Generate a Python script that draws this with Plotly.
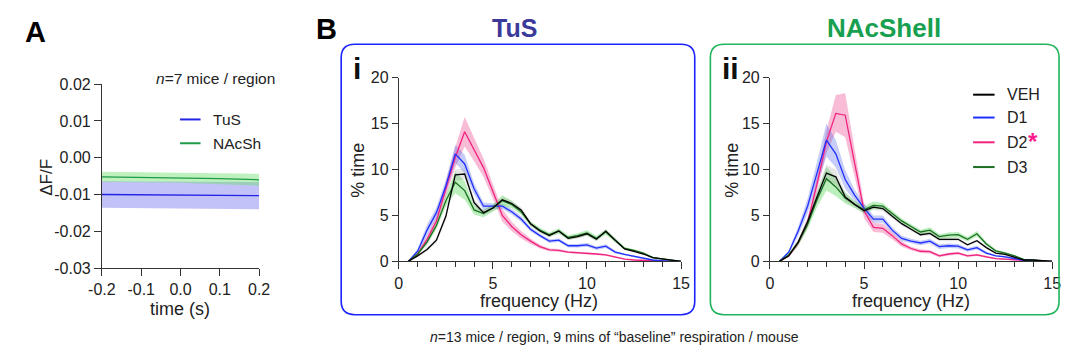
import plotly.graph_objects as go

# ---------------- data ----------------
# Panel A: photometry around respiration onset
time_s = [-0.2, -0.1, 0.0, 0.1, 0.2]
tus_dff = [-0.0100, -0.0101, -0.0102, -0.0102, -0.0103]
tus_sem = [0.0036, 0.0036, 0.0037, 0.0037, 0.0037]
nacsh_dff = [-0.0052, -0.0053, -0.0054, -0.0057, -0.0060]
nacsh_sem = [0.0014, 0.0014, 0.0014, 0.0015, 0.0016]
a_xticks = [-0.2, -0.1, 0.0, 0.1, 0.2]
a_xticktext = ["-0.2", "-0.1", "0.0", "0.1", "0.2"]
a_yticks = [0.02, 0.01, 0.0, -0.01, -0.02, -0.03]
a_yticktext = ["0.02", "0.01", "0.00", "-0.01", "-0.02", "-0.03"]

# Panel B: respiration frequency distributions (% time)
freq = [0.5, 1.0, 1.5, 2.0, 2.5, 3.0, 3.5, 4.0, 4.5, 5.0,
        5.5, 6.0, 6.5, 7.0, 7.5, 8.0, 8.5, 9.0, 9.5, 10.0,
        10.5, 11.0, 11.5, 12.0, 12.5, 13.0, 13.5, 14.0, 14.5, 15.0]

# TuS (i)
veh_tus = [0.0, 0.6, 1.3, 2.3, 4.9, 9.4, 9.5, 6.4, 5.3, 5.8,
           6.7, 6.3, 5.6, 4.1, 3.3, 2.8, 3.3, 2.5, 2.7, 3.0,
           2.4, 3.3, 2.3, 1.35, 1.1, 0.8, 0.4, 0.25, 0.12, 0.0]
d1_tus = [0.0, 1.1, 3.4, 5.3, 8.2, 11.7, 10.6, 7.9, 6.0, 6.0,
          6.0, 5.4, 4.6, 3.5, 2.8, 2.2, 2.3, 1.7, 1.7, 1.8,
          1.45, 1.65, 1.0, 0.75, 0.55, 0.3, 0.15, 0.07, 0.03, 0.0]
d2_tus = [0.0, 0.8, 2.4, 4.4, 7.9, 11.3, 14.1, 12.2, 10.2, 7.6,
          5.0, 3.8, 2.9, 2.2, 1.6, 1.25, 1.2, 1.0, 0.95, 0.9,
          0.8, 0.7, 0.45, 0.25, 0.15, 0.1, 0.05, 0.02, 0.0, 0.0]
d3_tus = [0.0, 0.8, 2.1, 3.9, 6.6, 8.6, 7.7, 5.6, 5.2, 5.8,
          6.6, 6.2, 5.4, 4.1, 3.4, 2.9, 3.3, 2.6, 2.8, 3.1,
          2.5, 3.2, 2.3, 1.4, 1.2, 0.9, 0.4, 0.25, 0.12, 0.0]
sem_veh_tus = [0, 0.15, 0.2, 0.3, 0.4, 0.6, 0.6, 0.4, 0.3, 0.3,
               0.3, 0.3, 0.3, 0.25, 0.2, 0.2, 0.2, 0.2, 0.2, 0.2,
               0.2, 0.2, 0.15, 0.15, 0.1, 0.1, 0.08, 0.05, 0.05, 0]
sem_d1_tus = [0, 0.3, 0.6, 0.6, 0.7, 1.0, 1.0, 0.6, 0.4, 0.3,
              0.3, 0.3, 0.3, 0.25, 0.2, 0.2, 0.2, 0.2, 0.2, 0.2,
              0.2, 0.2, 0.15, 0.1, 0.1, 0.08, 0.05, 0.03, 0.02, 0]
sem_d2_tus = [0, 0.2, 0.4, 0.5, 0.8, 1.1, 1.6, 1.3, 1.0, 0.8,
              0.7, 0.5, 0.4, 0.3, 0.2, 0.15, 0.15, 0.12, 0.12, 0.12,
              0.1, 0.1, 0.08, 0.05, 0.04, 0.03, 0.02, 0.01, 0, 0]
sem_d3_tus = [0, 0.2, 0.3, 0.4, 0.6, 1.2, 1.0, 0.5, 0.4, 0.4,
              0.6, 0.4, 0.3, 0.25, 0.25, 0.25, 0.3, 0.25, 0.25, 0.3,
              0.25, 0.3, 0.25, 0.15, 0.12, 0.1, 0.08, 0.05, 0.03, 0]

# NAcShell (ii)
veh_nac = [0.0, 0.6, 2.1, 4.3, 7.0, 9.6, 9.2, 7.0, 6.2, 5.5,
           5.9, 5.75, 4.9, 4.1, 3.5, 2.9, 3.05, 2.4, 2.4, 2.4,
           1.8, 2.25, 1.5, 0.9, 0.75, 0.45, 0.15, 0.15, 0.08, 0.0]
d1_nac = [0.0, 1.0, 3.3, 6.0, 9.6, 13.2, 11.7, 8.9, 7.2, 5.8,
          4.6, 4.6, 3.4, 2.5, 2.2, 2.0, 2.2, 1.6, 1.7, 1.65,
          1.25, 1.5, 0.9, 0.6, 0.5, 0.3, 0.1, 0.1, 0.05, 0.0]
d2_nac = [0.0, 0.6, 2.0, 4.2, 8.4, 13.0, 16.1, 15.9, 10.7, 5.5,
          3.7, 3.6, 2.8, 1.9, 1.4, 1.1, 1.05, 0.6, 0.8, 0.9,
          0.6, 0.7, 0.5, 0.3, 0.25, 0.15, 0.05, 0.02, 0.0, 0.0]
d3_nac = [0.0, 0.7, 2.0, 4.0, 6.7, 9.0, 8.1, 6.9, 6.2, 5.6,
          6.1, 6.0, 5.2, 4.4, 3.8, 3.2, 3.4, 2.7, 2.85, 2.9,
          2.4, 3.0, 1.9, 1.15, 0.9, 0.6, 0.2, 0.15, 0.08, 0.0]
sem_veh_nac = [0, 0.15, 0.3, 0.5, 0.7, 0.9, 0.8, 0.5, 0.3, 0.3,
               0.3, 0.3, 0.25, 0.2, 0.2, 0.2, 0.2, 0.2, 0.2, 0.2,
               0.15, 0.15, 0.1, 0.1, 0.1, 0.08, 0.05, 0.05, 0.03, 0]
sem_d1_nac = [0, 0.2, 0.5, 0.8, 1.2, 1.8, 1.5, 1.0, 0.6, 0.5,
              0.4, 0.4, 0.3, 0.3, 0.25, 0.25, 0.25, 0.25, 0.25, 0.25,
              0.2, 0.2, 0.15, 0.1, 0.1, 0.08, 0.05, 0.04, 0.02, 0]
sem_d2_nac = [0, 0.15, 0.3, 0.5, 0.8, 1.2, 2.0, 2.4, 1.5, 0.8,
              0.5, 0.5, 0.4, 0.3, 0.2, 0.2, 0.2, 0.15, 0.15, 0.15,
              0.12, 0.12, 0.1, 0.08, 0.06, 0.05, 0.03, 0.02, 0, 0]
sem_d3_nac = [0, 0.2, 0.3, 0.5, 0.8, 1.3, 1.0, 0.6, 0.4, 0.4,
              0.4, 0.35, 0.3, 0.25, 0.25, 0.25, 0.3, 0.25, 0.3, 0.3,
              0.25, 0.3, 0.2, 0.15, 0.12, 0.1, 0.08, 0.05, 0.03, 0]

groups = ["VEH", "D1", "D2", "D3"]

# ---------------- style ----------------
W, H = 1072, 358
FONT = "Liberation Sans, Arial, sans-serif"
AX = "#333333"

line_col = {"VEH": "#000000", "D1": "#1f2fff", "D2": "#f0237f", "D3": "#1b6e22"}
band_col = {"VEH": "rgba(140,140,140,0.22)", "D1": "rgba(70,90,235,0.30)",
            "D2": "rgba(240,80,150,0.38)", "D3": "rgba(60,210,60,0.35)"}


def px(x):
    return x / W


def py(y):
    return 1 - y / H


fig = go.Figure()


def add_band(x, m, s, color, xa, ya):
    up = [a + b for a, b in zip(m, s)]
    lo = [a - b for a, b in zip(m, s)]
    fig.add_trace(go.Scatter(x=list(x) + list(x)[::-1], y=up + lo[::-1],
                             fill="toself", fillcolor=color, line=dict(width=0),
                             mode="lines", hoverinfo="skip", showlegend=False,
                             xaxis=xa, yaxis=ya))


def add_line(x, m, color, xa, ya, name, w=1.3):
    fig.add_trace(go.Scatter(x=x, y=m, mode="lines", name=name,
                             line=dict(color=color, width=w), showlegend=False,
                             xaxis=xa, yaxis=ya))


# Panel A
add_band(time_s, tus_dff, tus_sem, "rgba(120,120,240,0.45)", "x", "y")
add_band(time_s, nacsh_dff, nacsh_sem, "rgba(110,225,110,0.45)", "x", "y")
add_line(time_s, tus_dff, "#2323e6", "x", "y", "TuS")
add_line(time_s, nacsh_dff, "#1e9b48", "x", "y", "NAcSh")

# Panel B
tus_sets = {"VEH": (veh_tus, sem_veh_tus), "D1": (d1_tus, sem_d1_tus),
            "D2": (d2_tus, sem_d2_tus), "D3": (d3_tus, sem_d3_tus)}
nac_sets = {"VEH": (veh_nac, sem_veh_nac), "D1": (d1_nac, sem_d1_nac),
            "D2": (d2_nac, sem_d2_nac), "D3": (d3_nac, sem_d3_nac)}
draw_order = ["D2", "D1", "D3", "VEH"]
for sets, xa, ya in [(tus_sets, "x2", "y2"), (nac_sets, "x3", "y3")]:
    for g in draw_order:
        add_band(freq, sets[g][0], sets[g][1], band_col[g], xa, ya)
    for g in draw_order:
        add_line(freq, sets[g][0], line_col[g], xa, ya, g)

tickfont = dict(family=FONT, size=16, color="#222222")
common = dict(showgrid=False, zeroline=False, showline=True, linecolor=AX,
              linewidth=1, ticks="outside", tickcolor=AX, tickfont=tickfont)

fig.update_layout(
    width=W, height=H, margin=dict(l=0, r=0, t=0, b=0),
    paper_bgcolor="white", plot_bgcolor="white", showlegend=False,
    font=dict(family=FONT, color="#222222"),
    xaxis=dict(domain=[px(90), px(251)], range=[-0.2, 0.2], anchor="y",
               tickvals=a_xticks, ticktext=a_xticktext, ticklen=7, **common),
    yaxis=dict(domain=[py(273), py(80)], range=[-0.03, 0.02], anchor="x",
               tickvals=a_yticks, ticktext=a_yticktext, ticklen=7, **common),
    xaxis2=dict(domain=[px(394), px(683)], range=[0, 15], anchor="y2",
                tickvals=[0, 5, 10, 15], ticklen=7,
                minor=dict(dtick=1, tick0=0, ticks="outside", ticklen=5, tickcolor=AX),
                **common),
    yaxis2=dict(domain=[py(266), py(73)], range=[0, 20], anchor="x2",
                tickvals=[0, 5, 10, 15, 20], ticklen=6, **common),
    xaxis3=dict(domain=[px(774), px(1063)], range=[0, 15], anchor="y3",
                tickvals=[0, 5, 10, 15], ticklen=7,
                minor=dict(dtick=1, tick0=0, ticks="outside", ticklen=5, tickcolor=AX),
                **common),
    yaxis3=dict(domain=[py(266), py(73)], range=[0, 20], anchor="x3",
                tickvals=[0, 5, 10, 15, 20], ticklen=6, **common),
)


def rr_path(x0, y0, x1, y1, r):
    return (f"M {px(x0+r)},{py(y0)} L {px(x1-r)},{py(y0)} "
            f"Q {px(x1)},{py(y0)} {px(x1)},{py(y0+r)} L {px(x1)},{py(y1-r)} "
            f"Q {px(x1)},{py(y1)} {px(x1-r)},{py(y1)} L {px(x0+r)},{py(y1)} "
            f"Q {px(x0)},{py(y1)} {px(x0)},{py(y1-r)} L {px(x0)},{py(y0+r)} "
            f"Q {px(x0)},{py(y0)} {px(x0+r)},{py(y0)} Z")


shapes = [
    dict(type="path", xref="paper", yref="paper", path=rr_path(335, 38, 697, 322, 14),
         line=dict(color="#1a22ff", width=1.6)),
    dict(type="path", xref="paper", yref="paper", path=rr_path(713, 38, 1070, 322, 14),
         line=dict(color="#22b45c", width=1.6)),
]


def leg_line(x0, x1, y, color):
    shapes.append(dict(type="line", xref="paper", yref="paper",
                       x0=px(x0), x1=px(x1), y0=py(y), y1=py(y),
                       line=dict(color=color, width=2)))


annotations = []


def txt(x, y, text, size, color="#222222", xanchor="center", bold=False, yanchor="middle"):
    t = f"<b>{text}</b>" if bold else text
    annotations.append(dict(x=px(x), y=py(y), xref="paper", yref="paper", text=t,
                            showarrow=False, xanchor=xanchor, yanchor=yanchor,
                            font=dict(family=FONT, size=size, color=color)))


# panel letters and titles
txt(22, 25, "A", 29, "#000000", bold=True)
txt(320, 22, "B", 29, "#000000", bold=True)
txt(512, 21, "TuS", 25, "#3b3a9a", bold=True)
txt(891, 21, "NAcShell", 26, "#17a04f", bold=True)
txt(351, 63, "i", 30, "#111111", bold=True)
txt(734, 63, "ii", 30, "#111111", bold=True)

# panel A texts
txt(33, 178, "ΔF/F", 17)
annotations[-1]["textangle"] = -90
txt(170, 316, "time (s)", 18)
txt(143, 74, "<i>n</i>=7 mice / region", 15.5, xanchor="left")
leg_line(170, 191, 117, "#2323e6")
leg_line(170, 191, 142, "#1e9b48")
txt(202, 117, "TuS", 15.5, xanchor="left")
txt(202, 142, "NAcSh", 15.5, xanchor="left")

# panel B axis titles
txt(352, 170, "% time", 18)
annotations[-1]["textangle"] = -90
txt(735, 170, "% time", 18)
annotations[-1]["textangle"] = -90
txt(538, 308, "frequency (Hz)", 18)
txt(918, 308, "frequency (Hz)", 18)

# panel B legend
for g, yy in zip(groups, [91, 115, 141, 167]):
    leg_line(982, 1004, yy, line_col[g])
    txt(1015, yy, g, 16, xanchor="left")
txt(1043, 140, "*", 24, "#ff1a8c", bold=True)

# caption
txt(615, 345, "<i>n</i>=13 mice / region, 9 mins of “baseline” respiration / mouse", 14)

fig.update_layout(shapes=shapes, annotations=annotations)
fig.write_html("out.html", config={"displayModeBar": False},
               post_script="document.body.style.margin='0';document.body.style.padding='0';")
